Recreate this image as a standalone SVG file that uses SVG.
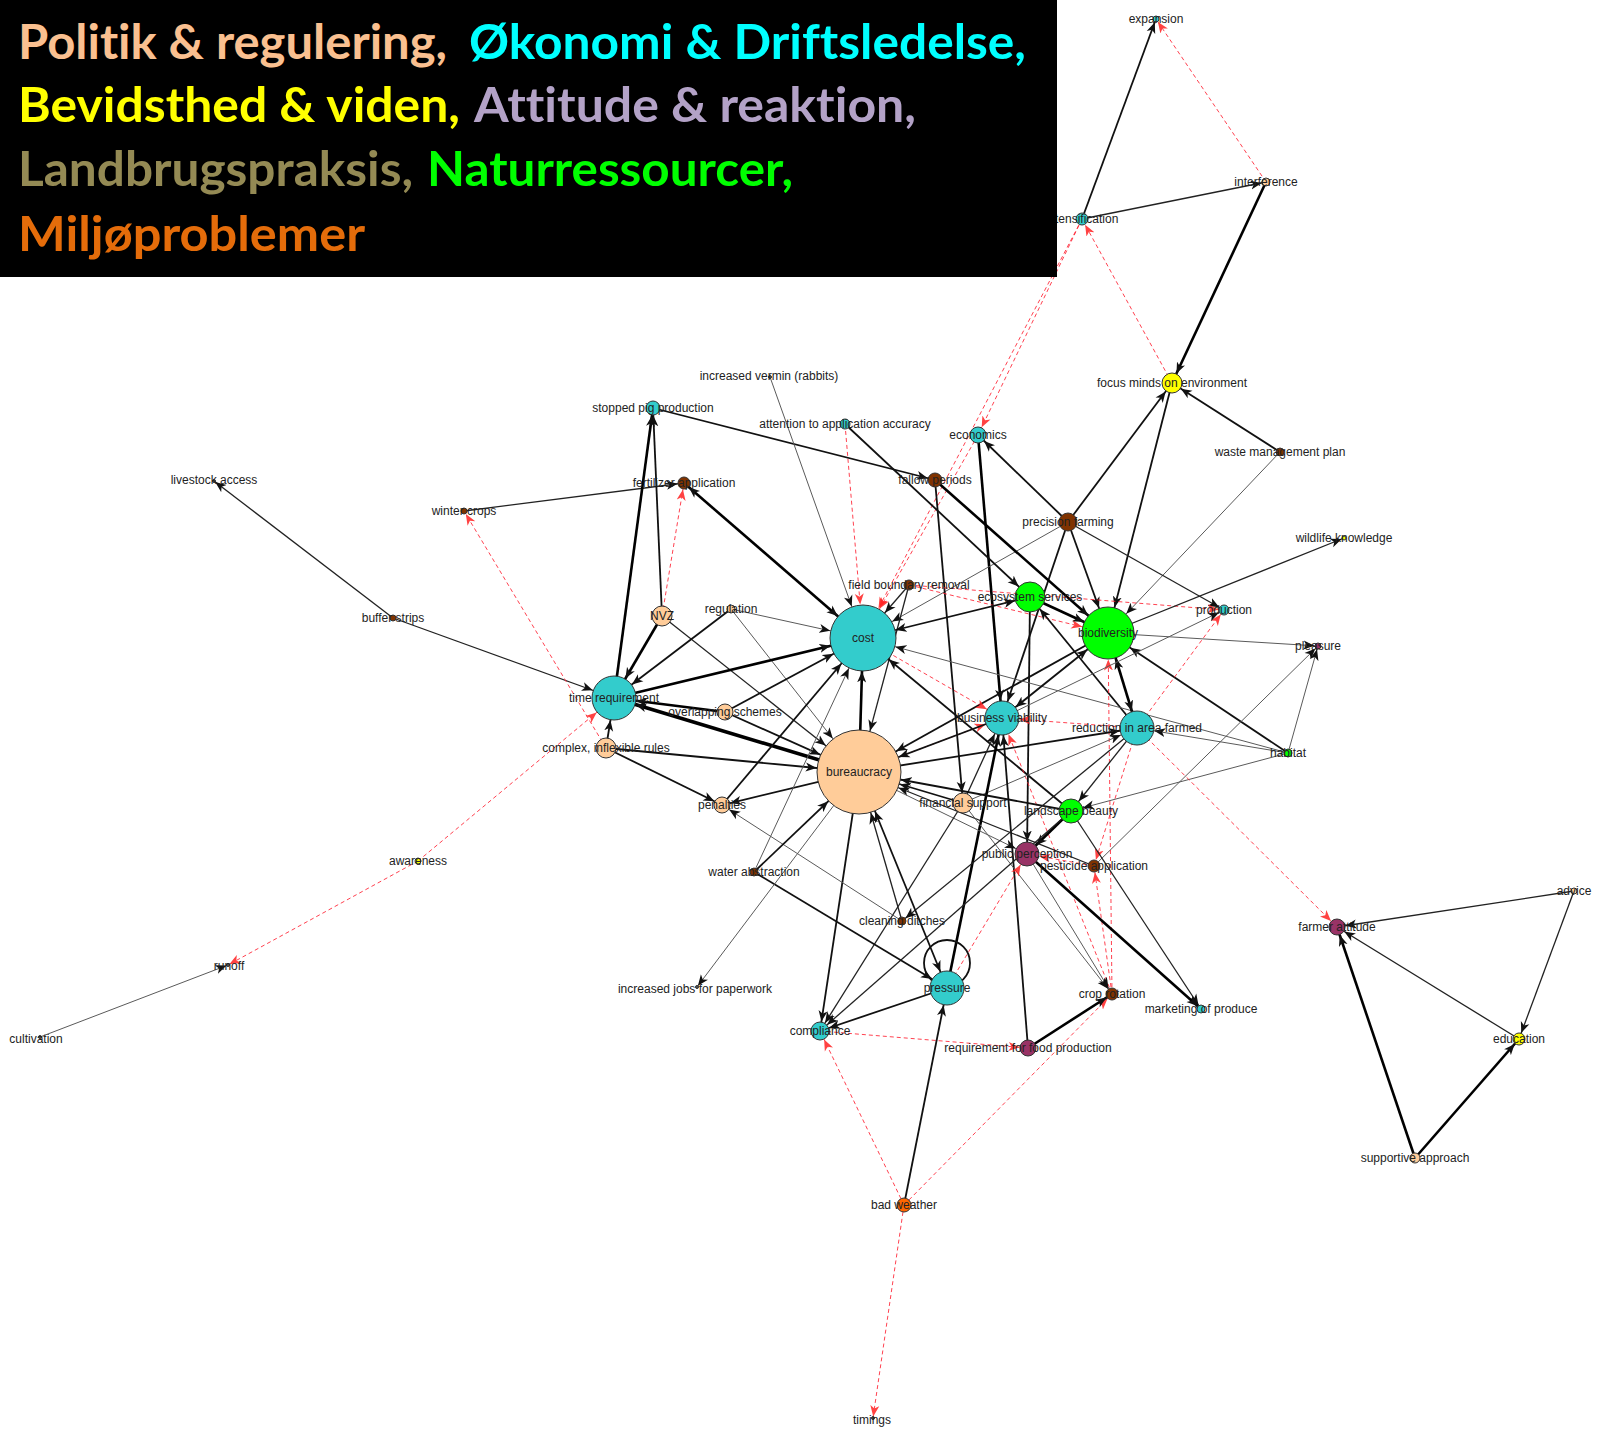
<svg xmlns="http://www.w3.org/2000/svg" width="1597" height="1440" viewBox="0 0 1597 1440">
<style>
.k3{stroke:#000;stroke-width:2.6;fill:none}
.kx{stroke:#000;stroke-width:3.6;fill:none}
.k2{stroke:#111;stroke-width:1.8;fill:none}
.k1{stroke:#222;stroke-width:1.3;fill:none}
.g{stroke:#5a5a5a;stroke-width:1;fill:none}
.r{stroke:#f23;stroke-width:1;stroke-dasharray:4 3;fill:none;opacity:.85}
.n circle{stroke:#333;stroke-width:1}
.n text{font-family:"Liberation Sans",Arial,sans-serif;font-size:12px;fill:#222;text-anchor:middle}
.cy{fill:#33cccc}.pe{fill:#ffcc99}.br{fill:#803300}.gr{fill:#00ff00}.pu{fill:#993366}.ye{fill:#ffff00}.or{fill:#ff6600}.tn{fill:#555}
.lg{font-family:Lato,"Open Sans",sans-serif;font-weight:bold;font-size:47px;font-variant-ligatures:none}
.ah{fill:#111}.rh{fill:#f22}
</style>
<defs>
<path id="h" d="M0,0.5 L11,5 L0,9.5 L3,5 Z"/>
<marker id="a1" markerUnits="userSpaceOnUse" markerWidth="12" markerHeight="10" refX="12.5" refY="5" orient="auto-start-reverse"><use href="#h" class="ah"/></marker>
<marker id="a2" markerUnits="userSpaceOnUse" markerWidth="12" markerHeight="10" refX="13.5" refY="5" orient="auto-start-reverse"><use href="#h" class="ah"/></marker>
<marker id="a3" markerUnits="userSpaceOnUse" markerWidth="12" markerHeight="10" refX="14.5" refY="5" orient="auto-start-reverse"><use href="#h" class="ah"/></marker>
<marker id="a4" markerUnits="userSpaceOnUse" markerWidth="12" markerHeight="10" refX="15.5" refY="5" orient="auto-start-reverse"><use href="#h" class="ah"/></marker>
<marker id="a5" markerUnits="userSpaceOnUse" markerWidth="12" markerHeight="10" refX="16.5" refY="5" orient="auto-start-reverse"><use href="#h" class="ah"/></marker>
<marker id="a6" markerUnits="userSpaceOnUse" markerWidth="12" markerHeight="10" refX="17.5" refY="5" orient="auto-start-reverse"><use href="#h" class="ah"/></marker>
<marker id="a7" markerUnits="userSpaceOnUse" markerWidth="12" markerHeight="10" refX="18.5" refY="5" orient="auto-start-reverse"><use href="#h" class="ah"/></marker>
<marker id="a8" markerUnits="userSpaceOnUse" markerWidth="12" markerHeight="10" refX="19.5" refY="5" orient="auto-start-reverse"><use href="#h" class="ah"/></marker>
<marker id="a9" markerUnits="userSpaceOnUse" markerWidth="12" markerHeight="10" refX="20.5" refY="5" orient="auto-start-reverse"><use href="#h" class="ah"/></marker>
<marker id="a10" markerUnits="userSpaceOnUse" markerWidth="12" markerHeight="10" refX="21.5" refY="5" orient="auto-start-reverse"><use href="#h" class="ah"/></marker>
<marker id="a12" markerUnits="userSpaceOnUse" markerWidth="12" markerHeight="10" refX="23.5" refY="5" orient="auto-start-reverse"><use href="#h" class="ah"/></marker>
<marker id="a15" markerUnits="userSpaceOnUse" markerWidth="12" markerHeight="10" refX="26.5" refY="5" orient="auto-start-reverse"><use href="#h" class="ah"/></marker>
<marker id="a17" markerUnits="userSpaceOnUse" markerWidth="12" markerHeight="10" refX="28.5" refY="5" orient="auto-start-reverse"><use href="#h" class="ah"/></marker>
<marker id="a22" markerUnits="userSpaceOnUse" markerWidth="12" markerHeight="10" refX="33.5" refY="5" orient="auto-start-reverse"><use href="#h" class="ah"/></marker>
<marker id="a26" markerUnits="userSpaceOnUse" markerWidth="12" markerHeight="10" refX="37.5" refY="5" orient="auto-start-reverse"><use href="#h" class="ah"/></marker>
<marker id="a33" markerUnits="userSpaceOnUse" markerWidth="12" markerHeight="10" refX="44.5" refY="5" orient="auto-start-reverse"><use href="#h" class="ah"/></marker>
<marker id="a42" markerUnits="userSpaceOnUse" markerWidth="12" markerHeight="10" refX="53.5" refY="5" orient="auto-start-reverse"><use href="#h" class="ah"/></marker>
<marker id="r1" markerUnits="userSpaceOnUse" markerWidth="12" markerHeight="10" refX="12.5" refY="5" orient="auto"><use href="#h" class="rh"/></marker>
<marker id="r3" markerUnits="userSpaceOnUse" markerWidth="12" markerHeight="10" refX="14.5" refY="5" orient="auto"><use href="#h" class="rh"/></marker>
<marker id="r5" markerUnits="userSpaceOnUse" markerWidth="12" markerHeight="10" refX="16.5" refY="5" orient="auto"><use href="#h" class="rh"/></marker>
<marker id="r6" markerUnits="userSpaceOnUse" markerWidth="12" markerHeight="10" refX="17.5" refY="5" orient="auto"><use href="#h" class="rh"/></marker>
<marker id="r8" markerUnits="userSpaceOnUse" markerWidth="12" markerHeight="10" refX="19.5" refY="5" orient="auto"><use href="#h" class="rh"/></marker>
<marker id="r9" markerUnits="userSpaceOnUse" markerWidth="12" markerHeight="10" refX="20.5" refY="5" orient="auto"><use href="#h" class="rh"/></marker>
<marker id="r12" markerUnits="userSpaceOnUse" markerWidth="12" markerHeight="10" refX="23.5" refY="5" orient="auto"><use href="#h" class="rh"/></marker>
<marker id="r17" markerUnits="userSpaceOnUse" markerWidth="12" markerHeight="10" refX="28.5" refY="5" orient="auto"><use href="#h" class="rh"/></marker>
<marker id="r22" markerUnits="userSpaceOnUse" markerWidth="12" markerHeight="10" refX="33.5" refY="5" orient="auto"><use href="#h" class="rh"/></marker>
<marker id="r26" markerUnits="userSpaceOnUse" markerWidth="12" markerHeight="10" refX="37.5" refY="5" orient="auto"><use href="#h" class="rh"/></marker>
<marker id="r33" markerUnits="userSpaceOnUse" markerWidth="12" markerHeight="10" refX="44.5" refY="5" orient="auto"><use href="#h" class="rh"/></marker>
</defs>
<rect width="1597" height="1440" fill="#fff"/>
<g id="connectors">
<line class="k2" x1="1082" y1="219" x2="1156" y2="19" marker-end="url(#a3)"/>
<line class="r" x1="1266" y1="182" x2="1156" y2="19" marker-end="url(#r3)"/>
<line class="k1" x1="1082" y1="219" x2="1266" y2="182" marker-end="url(#a4)"/>
<line class="k3" x1="1266" y1="182" x2="1172" y2="383" marker-end="url(#a10)"/>
<line class="r" x1="1172" y1="383" x2="1082" y2="219" marker-end="url(#r6)"/>
<line class="k2" x1="1280" y1="452" x2="1172" y2="383" marker-end="url(#a10)"/>
<line class="k2" x1="1068" y1="522" x2="1172" y2="383" marker-end="url(#a10)"/>
<line class="k2" x1="1172" y1="383" x2="1108" y2="633" marker-end="url(#a26)"/>
<line class="g" x1="1280" y1="452" x2="1108" y2="633" marker-end="url(#a26)"/>
<line class="r" x1="1082" y1="219" x2="978" y2="435" marker-end="url(#r8)"/>
<line class="r" x1="1082" y1="219" x2="863" y2="638" marker-end="url(#r33)"/>
<line class="r" x1="978" y1="435" x2="863" y2="638" marker-end="url(#r33)"/>
<line class="k3" x1="978" y1="435" x2="1002" y2="718" marker-end="url(#a17)"/>
<line class="k2" x1="1068" y1="522" x2="978" y2="435" marker-end="url(#a8)"/>
<line class="g" x1="1068" y1="522" x2="863" y2="638" marker-end="url(#a33)"/>
<line class="k2" x1="1068" y1="522" x2="1002" y2="718" marker-end="url(#a17)"/>
<line class="k2" x1="1068" y1="522" x2="1108" y2="633" marker-end="url(#a26)"/>
<line class="k1" x1="1068" y1="522" x2="1224" y2="610" marker-end="url(#a5)"/>
<line class="k2" x1="653" y1="408" x2="935" y2="480" marker-end="url(#a7)"/>
<line class="r" x1="845" y1="424" x2="863" y2="638" marker-end="url(#r33)"/>
<line class="k2" x1="845" y1="424" x2="1030" y2="597" marker-end="url(#a15)"/>
<line class="k3" x1="935" y1="480" x2="1108" y2="633" marker-end="url(#a26)"/>
<line class="k2" x1="935" y1="480" x2="963" y2="803" marker-end="url(#a10)"/>
<line class="g" x1="770" y1="377" x2="863" y2="638" marker-end="url(#a33)"/>
<line class="k1" x1="909" y1="585" x2="863" y2="638" marker-end="url(#a33)"/>
<line class="k1" x1="909" y1="585" x2="859" y2="772" marker-end="url(#a42)"/>
<line class="r" x1="909" y1="585" x2="1108" y2="633" marker-end="url(#r26)"/>
<line class="r" x1="909" y1="585" x2="1224" y2="610" marker-end="url(#r5)"/>
<line class="k2" x1="1030" y1="597" x2="863" y2="638" marker-start="url(#a15)" marker-end="url(#a33)"/>
<line class="k3" x1="1030" y1="597" x2="1108" y2="633" marker-end="url(#a26)"/>
<line class="k2" x1="1030" y1="597" x2="1027" y2="854" marker-end="url(#a12)"/>
<line class="k2" x1="1137" y1="728" x2="1030" y2="597" marker-end="url(#a15)"/>
<line class="k2" x1="1108" y1="633" x2="859" y2="772" marker-end="url(#a42)"/>
<line class="k2" x1="1071" y1="811" x2="863" y2="638" marker-end="url(#a33)"/>
<line class="r" x1="863" y1="638" x2="1002" y2="718" marker-end="url(#r17)"/>
<line class="r" x1="859" y1="772" x2="1002" y2="718" marker-end="url(#r17)"/>
<line class="g" x1="1288" y1="753" x2="863" y2="638" marker-end="url(#a33)"/>
<line class="k2" x1="1288" y1="753" x2="1108" y2="633" marker-end="url(#a26)"/>
<line class="g" x1="1288" y1="753" x2="1137" y2="728" marker-end="url(#a17)"/>
<line class="g" x1="1288" y1="753" x2="1071" y2="811" marker-end="url(#a12)"/>
<line class="g" x1="1288" y1="753" x2="1318" y2="646" marker-end="url(#a3)"/>
<line class="g" x1="1108" y1="633" x2="1318" y2="646" marker-end="url(#a3)"/>
<line class="g" x1="1094" y1="866" x2="1318" y2="646" marker-end="url(#a3)"/>
<line class="k1" x1="1108" y1="633" x2="1344" y2="538" marker-end="url(#a2)"/>
<line class="k3" x1="1108" y1="633" x2="1137" y2="728" marker-start="url(#a26)" marker-end="url(#a17)"/>
<line class="r" x1="1137" y1="728" x2="1002" y2="718" marker-end="url(#r17)"/>
<line class="r" x1="1137" y1="728" x2="1224" y2="610" marker-end="url(#r5)"/>
<line class="r" x1="1112" y1="994" x2="1108" y2="633" marker-end="url(#r26)"/>
<line class="r" x1="1137" y1="728" x2="1337" y2="927" marker-end="url(#r8)"/>
<line class="r" x1="1137" y1="728" x2="1094" y2="866" marker-end="url(#r6)"/>
<line class="r" x1="1112" y1="994" x2="1094" y2="866" marker-end="url(#r6)"/>
<line class="r" x1="1112" y1="994" x2="1002" y2="718" marker-end="url(#r17)"/>
<line class="r" x1="904" y1="1205" x2="1112" y2="994" marker-end="url(#r6)"/>
<line class="r" x1="1094" y1="866" x2="1027" y2="854" marker-end="url(#r12)"/>
<line class="k1" x1="1094" y1="866" x2="859" y2="772" marker-end="url(#a42)"/>
<line class="k2" x1="859" y1="772" x2="1137" y2="728" marker-end="url(#a17)"/>
<line class="g" x1="963" y1="803" x2="1137" y2="728" marker-end="url(#a17)"/>
<line class="k3" x1="947" y1="988" x2="1002" y2="718" marker-end="url(#a17)"/>
<line class="k2" x1="1028" y1="1048" x2="1002" y2="718" marker-end="url(#a17)"/>
<line class="k1" x1="963" y1="803" x2="1002" y2="718" marker-end="url(#a17)"/>
<line class="k2" x1="1108" y1="633" x2="1002" y2="718" marker-start="url(#a26)" marker-end="url(#a17)"/>
<line class="g" x1="1002" y1="718" x2="1224" y2="610" marker-end="url(#a5)"/>
<line class="k2" x1="1002" y1="718" x2="859" y2="772" marker-end="url(#a42)"/>
<line class="k2" x1="1071" y1="811" x2="859" y2="772" marker-end="url(#a42)"/>
<line class="k3" x1="1071" y1="811" x2="1027" y2="854" marker-end="url(#a12)"/>
<line class="k1" x1="1071" y1="811" x2="1201" y2="1009" marker-end="url(#a4)"/>
<line class="k1" x1="1137" y1="728" x2="1071" y2="811" marker-end="url(#a12)"/>
<line class="k3" x1="1027" y1="854" x2="1201" y2="1009" marker-end="url(#a4)"/>
<line class="g" x1="1027" y1="854" x2="1112" y2="994" marker-end="url(#a6)"/>
<line class="g" x1="963" y1="803" x2="1112" y2="994" marker-end="url(#a6)"/>
<line class="g" x1="859" y1="772" x2="1027" y2="854" marker-end="url(#a12)"/>
<line class="r" x1="947" y1="988" x2="1027" y2="854" marker-end="url(#r12)"/>
<line class="k1" x1="1137" y1="728" x2="902" y2="921" marker-end="url(#a4)"/>
<line class="k2" x1="859" y1="772" x2="820" y2="1031" marker-end="url(#a9)"/>
<line class="k1" x1="963" y1="803" x2="820" y2="1031" marker-end="url(#a9)"/>
<line class="k1" x1="1071" y1="811" x2="820" y2="1031" marker-end="url(#a9)"/>
<line class="k2" x1="947" y1="988" x2="820" y2="1031" marker-end="url(#a9)"/>
<line class="r" x1="820" y1="1031" x2="1028" y2="1048" marker-end="url(#r8)"/>
<line class="r" x1="904" y1="1205" x2="820" y2="1031" marker-end="url(#r9)"/>
<line class="k2" x1="859" y1="772" x2="947" y2="988" marker-start="url(#a42)" marker-end="url(#a17)"/>
<line class="k2" x1="754" y1="872" x2="947" y2="988" marker-end="url(#a17)"/>
<line class="k2" x1="904" y1="1205" x2="947" y2="988" marker-end="url(#a17)"/>
<line class="g" x1="859" y1="772" x2="697" y2="987" marker-end="url(#a1)"/>
<line class="k3" x1="1028" y1="1048" x2="1112" y2="994" marker-end="url(#a6)"/>
<line class="r" x1="904" y1="1205" x2="873" y2="1418" marker-end="url(#r1)"/>
<line class="k1" x1="1574" y1="891" x2="1337" y2="927" marker-end="url(#a8)"/>
<line class="k1" x1="1574" y1="891" x2="1519" y2="1039" marker-end="url(#a6)"/>
<line class="k1" x1="1519" y1="1039" x2="1337" y2="927" marker-end="url(#a8)"/>
<line class="k3" x1="1415" y1="1158" x2="1337" y2="927" marker-end="url(#a8)"/>
<line class="k3" x1="1415" y1="1158" x2="1519" y2="1039" marker-end="url(#a6)"/>
<line class="k1" x1="393" y1="618" x2="214" y2="481" marker-end="url(#a1)"/>
<line class="k1" x1="393" y1="618" x2="614" y2="698" marker-end="url(#a22)"/>
<line class="k1" x1="464" y1="511" x2="684" y2="483" marker-end="url(#a6)"/>
<line class="r" x1="606" y1="748" x2="464" y2="511" marker-end="url(#r3)"/>
<line class="r" x1="418" y1="861" x2="614" y2="698" marker-end="url(#r22)"/>
<line class="r" x1="418" y1="861" x2="228" y2="965" marker-end="url(#r1)"/>
<line class="g" x1="40" y1="1037" x2="228" y2="965" marker-end="url(#a1)"/>
<line class="k3" x1="614" y1="698" x2="653" y2="408" marker-end="url(#a7)"/>
<line class="k2" x1="662" y1="616" x2="653" y2="408" marker-end="url(#a7)"/>
<line class="r" x1="662" y1="616" x2="684" y2="483" marker-end="url(#r6)"/>
<line class="k3" x1="662" y1="616" x2="614" y2="698" marker-end="url(#a22)"/>
<line class="k1" x1="662" y1="616" x2="859" y2="772" marker-end="url(#a42)"/>
<line class="g" x1="731" y1="609" x2="863" y2="638" marker-end="url(#a33)"/>
<line class="k2" x1="731" y1="609" x2="614" y2="698" marker-end="url(#a22)"/>
<line class="g" x1="731" y1="609" x2="859" y2="772" marker-end="url(#a42)"/>
<line class="k3" x1="684" y1="483" x2="863" y2="638" marker-start="url(#a6)" marker-end="url(#a33)"/>
<line class="k3" x1="614" y1="698" x2="863" y2="638" marker-end="url(#a33)"/>
<line class="kx" x1="859" y1="772" x2="614" y2="698" marker-end="url(#a22)"/>
<line class="k3" x1="725" y1="712" x2="614" y2="698" marker-end="url(#a22)"/>
<line class="k2" x1="725" y1="712" x2="863" y2="638" marker-end="url(#a33)"/>
<line class="k2" x1="725" y1="712" x2="859" y2="772" marker-end="url(#a42)"/>
<line class="k2" x1="606" y1="748" x2="614" y2="698" marker-end="url(#a22)"/>
<line class="k2" x1="606" y1="748" x2="859" y2="772" marker-end="url(#a42)"/>
<line class="k2" x1="606" y1="748" x2="722" y2="805" marker-end="url(#a8)"/>
<line class="k2" x1="859" y1="772" x2="722" y2="805" marker-end="url(#a8)"/>
<line class="k2" x1="722" y1="805" x2="863" y2="638" marker-end="url(#a33)"/>
<line class="g" x1="902" y1="921" x2="722" y2="805" marker-end="url(#a8)"/>
<line class="k2" x1="754" y1="872" x2="859" y2="772" marker-end="url(#a42)"/>
<line class="g" x1="754" y1="872" x2="863" y2="638" marker-end="url(#a33)"/>
<line class="k1" x1="902" y1="921" x2="859" y2="772" marker-end="url(#a42)"/>
<line class="k3" x1="859" y1="772" x2="863" y2="638" marker-end="url(#a33)"/>
<line class="k2" x1="963" y1="803" x2="859" y2="772" marker-end="url(#a42)"/>
<circle class="k2" cx="947" cy="963" r="23"/>
</g>
<g id="nodes">
<g id="n-expansion" class="n"><circle class="cy" cx="1156" cy="19" r="3"/><text x="1156" y="23">expansion</text></g>
<g id="n-interference" class="n"><circle class="pe" cx="1266" cy="182" r="4"/><text x="1266" y="186">interference</text></g>
<g id="n-intensification" class="n"><circle class="cy" cx="1082" cy="219" r="6"/><text x="1082" y="223">intensification</text></g>
<g id="n-focus" class="n"><circle class="ye" cx="1172" cy="383" r="10"/><text x="1172" y="387">focus minds on environment</text></g>
<g id="n-waste" class="n"><circle class="br" cx="1280" cy="452" r="4"/><text x="1280" y="456">waste management plan</text></g>
<g id="n-vermin" class="n"><circle class="tn" cx="770" cy="377" r="1.5"/><text x="769" y="380">increased vermin (rabbits)</text></g>
<g id="n-pig" class="n"><circle class="cy" cx="653" cy="408" r="7"/><text x="653" y="412">stopped pig production</text></g>
<g id="n-attention" class="n"><circle class="cy" cx="845" cy="424" r="5"/><text x="845" y="428">attention to application accuracy</text></g>
<g id="n-economics" class="n"><circle class="cy" cx="978" cy="435" r="8"/><text x="978" y="439">economics</text></g>
<g id="n-fertilizer" class="n"><circle class="br" cx="684" cy="483" r="6"/><text x="684" y="487">fertilizer application</text></g>
<g id="n-fallow" class="n"><circle class="br" cx="935" cy="480" r="7"/><text x="935" y="484">fallow periods</text></g>
<g id="n-livestock" class="n"><circle class="tn" cx="214" cy="481" r="1.5"/><text x="214" y="484">livestock access</text></g>
<g id="n-winter" class="n"><circle class="br" cx="464" cy="511" r="3"/><text x="464" y="515">winter crops</text></g>
<g id="n-precision" class="n"><circle class="br" cx="1068" cy="522" r="9"/><text x="1068" y="526">precision farming</text></g>
<g id="n-wildlife" class="n"><circle class="ye" cx="1344" cy="538" r="2"/><text x="1344" y="542">wildlife knowledge</text></g>
<g id="n-fieldboundary" class="n"><circle class="br" cx="909" cy="585" r="5"/><text x="909" y="589">field boundary removal</text></g>
<g id="n-ecosystem" class="n"><circle class="gr" cx="1030" cy="597" r="15"/><text x="1030" y="601">ecosystem services</text></g>
<g id="n-production" class="n"><circle class="cy" cx="1224" cy="610" r="5"/><text x="1224" y="614">production</text></g>
<g id="n-nvz" class="n"><circle class="pe" cx="662" cy="616" r="10"/><text x="662" y="620">NVZ</text></g>
<g id="n-regulation" class="n"><circle class="pe" cx="731" cy="609" r="4"/><text x="731" y="613">regulation</text></g>
<g id="n-buffer" class="n"><circle class="br" cx="393" cy="618" r="3"/><text x="393" y="622">buffer strips</text></g>
<g id="n-biodiversity" class="n"><circle class="gr" cx="1108" cy="633" r="26"/><text x="1108" y="637">biodiversity</text></g>
<g id="n-cost" class="n"><circle class="cy" cx="863" cy="638" r="33"/><text x="863" y="642">cost</text></g>
<g id="n-pleasure" class="n"><circle class="pu" cx="1318" cy="646" r="3"/><text x="1318" y="650">pleasure</text></g>
<g id="n-time" class="n"><circle class="cy" cx="614" cy="698" r="22"/><text x="614" y="702">time requirement</text></g>
<g id="n-overlapping" class="n"><circle class="pe" cx="725" cy="712" r="8"/><text x="725" y="716">overlapping schemes</text></g>
<g id="n-business" class="n"><circle class="cy" cx="1002" cy="718" r="17"/><text x="1002" y="722">business viability</text></g>
<g id="n-reduction" class="n"><circle class="cy" cx="1137" cy="728" r="17"/><text x="1137" y="732">reduction in area farmed</text></g>
<g id="n-complex" class="n"><circle class="pe" cx="606" cy="748" r="10"/><text x="606" y="752">complex, inflexible rules</text></g>
<g id="n-habitat" class="n"><circle class="gr" cx="1288" cy="753" r="4"/><text x="1288" y="757">habitat</text></g>
<g id="n-bureaucracy" class="n"><circle class="pe" cx="859" cy="772" r="42"/><text x="859" y="776">bureaucracy</text></g>
<g id="n-financial" class="n"><circle class="pe" cx="963" cy="803" r="10"/><text x="963" y="807">financial support</text></g>
<g id="n-penalties" class="n"><circle class="pe" cx="722" cy="805" r="8"/><text x="722" y="809">penalties</text></g>
<g id="n-landscape" class="n"><circle class="gr" cx="1071" cy="811" r="12"/><text x="1071" y="815">landscape beauty</text></g>
<g id="n-public" class="n"><circle class="pu" cx="1027" cy="854" r="12"/><text x="1027" y="858">public perception</text></g>
<g id="n-pesticide" class="n"><circle class="br" cx="1094" cy="866" r="6"/><text x="1094" y="870">pesticide application</text></g>
<g id="n-awareness" class="n"><circle class="ye" cx="418" cy="861" r="3"/><text x="418" y="865">awareness</text></g>
<g id="n-water" class="n"><circle class="br" cx="754" cy="872" r="4"/><text x="754" y="876">water abstraction</text></g>
<g id="n-ditches" class="n"><circle class="br" cx="902" cy="921" r="4"/><text x="902" y="925">cleaning ditches</text></g>
<g id="n-advice" class="n"><circle class="pe" cx="1574" cy="891" r="3"/><text x="1574" y="895">advice</text></g>
<g id="n-farmer" class="n"><circle class="pu" cx="1337" cy="927" r="8"/><text x="1337" y="931">farmer attitude</text></g>
<g id="n-runoff" class="n"><circle class="tn" cx="228" cy="965" r="1.5"/><text x="229" y="970">runoff</text></g>
<g id="n-pressure" class="n"><circle class="cy" cx="947" cy="988" r="17"/><text x="947" y="992">pressure</text></g>
<g id="n-jobs" class="n"><circle class="tn" cx="697" cy="987" r="1.5"/><text x="695" y="993">increased jobs for paperwork</text></g>
<g id="n-crop" class="n"><circle class="br" cx="1112" cy="994" r="6"/><text x="1112" y="998">crop rotation</text></g>
<g id="n-marketing" class="n"><circle class="cy" cx="1201" cy="1009" r="4"/><text x="1201" y="1013">marketing of produce</text></g>
<g id="n-compliance" class="n"><circle class="cy" cx="820" cy="1031" r="9"/><text x="820" y="1035">compliance</text></g>
<g id="n-cultivation" class="n"><circle class="tn" cx="40" cy="1037" r="1.5"/><text x="36" y="1043">cultivation</text></g>
<g id="n-education" class="n"><circle class="ye" cx="1519" cy="1039" r="6"/><text x="1519" y="1043">education</text></g>
<g id="n-requirement" class="n"><circle class="pu" cx="1028" cy="1048" r="8"/><text x="1028" y="1052">requirement for food production</text></g>
<g id="n-supportive" class="n"><circle class="pe" cx="1415" cy="1158" r="5"/><text x="1415" y="1162">supportive approach</text></g>
<g id="n-badweather" class="n"><circle class="or" cx="904" cy="1205" r="7"/><text x="904" y="1209">bad weather</text></g>
<g id="n-timings" class="n"><circle class="tn" cx="873" cy="1418" r="1.5"/><text x="872" y="1424">timings</text></g>
</g>
<g id="legend">
<rect x="0" y="0" width="1057" height="277" fill="#000"/>
<text class="lg" x="18" y="59" textLength="429" lengthAdjust="spacingAndGlyphs" fill="#fac090">Politik &amp; regulering,</text>
<text class="lg" x="469" y="59" textLength="557" lengthAdjust="spacingAndGlyphs" fill="#00ffff">Økonomi &amp; Driftsledelse,</text>
<text class="lg" x="18" y="122" textLength="442" lengthAdjust="spacingAndGlyphs" fill="#ffff00">Bevidsthed &amp; viden,</text>
<text class="lg" x="474" y="122" textLength="442" lengthAdjust="spacingAndGlyphs" fill="#b3a2c7">Attitude &amp; reaktion,</text>
<text class="lg" x="18" y="186" textLength="395" lengthAdjust="spacingAndGlyphs" fill="#948a54">Landbrugspraksis,</text>
<text class="lg" x="427" y="186" textLength="366" lengthAdjust="spacingAndGlyphs" fill="#00ff00">Naturressourcer,</text>
<text class="lg" x="18" y="251" textLength="347" lengthAdjust="spacingAndGlyphs" fill="#e46c0a">Miljøproblemer</text>
</g>
</svg>
